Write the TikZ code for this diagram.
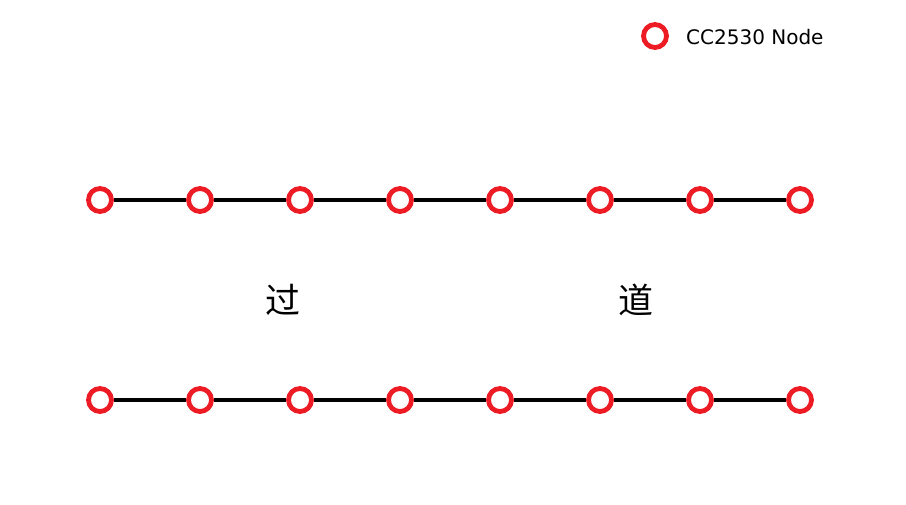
\documentclass[tikz,border=0pt]{standalone}
\usepackage{fontspec}
\setmainfont{DejaVu Sans}
\newfontfamily\cjk{Noto Sans CJK SC}
\definecolor{nodered}{RGB}{237,28,36}
\begin{document}
\begin{tikzpicture}[x=1pt,y=-1pt,
  ccnode/.style={circle,draw=nodered,line width=4.8pt,minimum size=23pt,inner sep=0pt,fill=white},
  link/.style={line width=4pt,black},
  hanzi/.style={font=\cjk\fontsize{35}{35}\selectfont,inner sep=0pt}]
\useasboundingbox (0,0) rectangle (906,504);
\foreach \i in {1,...,8}{
  \node[ccnode] (t\i) at (\i*100,200) {};
  \node[ccnode] (b\i) at (\i*100,400) {};
}
\foreach \i [evaluate=\i as \j using int(\i+1)] in {1,...,7}{
  \draw[link] (t\i) -- (t\j);
  \draw[link] (b\i) -- (b\j);
}
\node[hanzi] (guo) at (283,300) {过};
\node[hanzi] (dao) at (636,300) {道};
\node[ccnode] (leg) at (655,36) {};
\node[anchor=west,font=\fontsize{20}{20}\selectfont,inner sep=0pt] (legtext) at (686,37) {CC2530 Node};
\end{tikzpicture}
\end{document}
